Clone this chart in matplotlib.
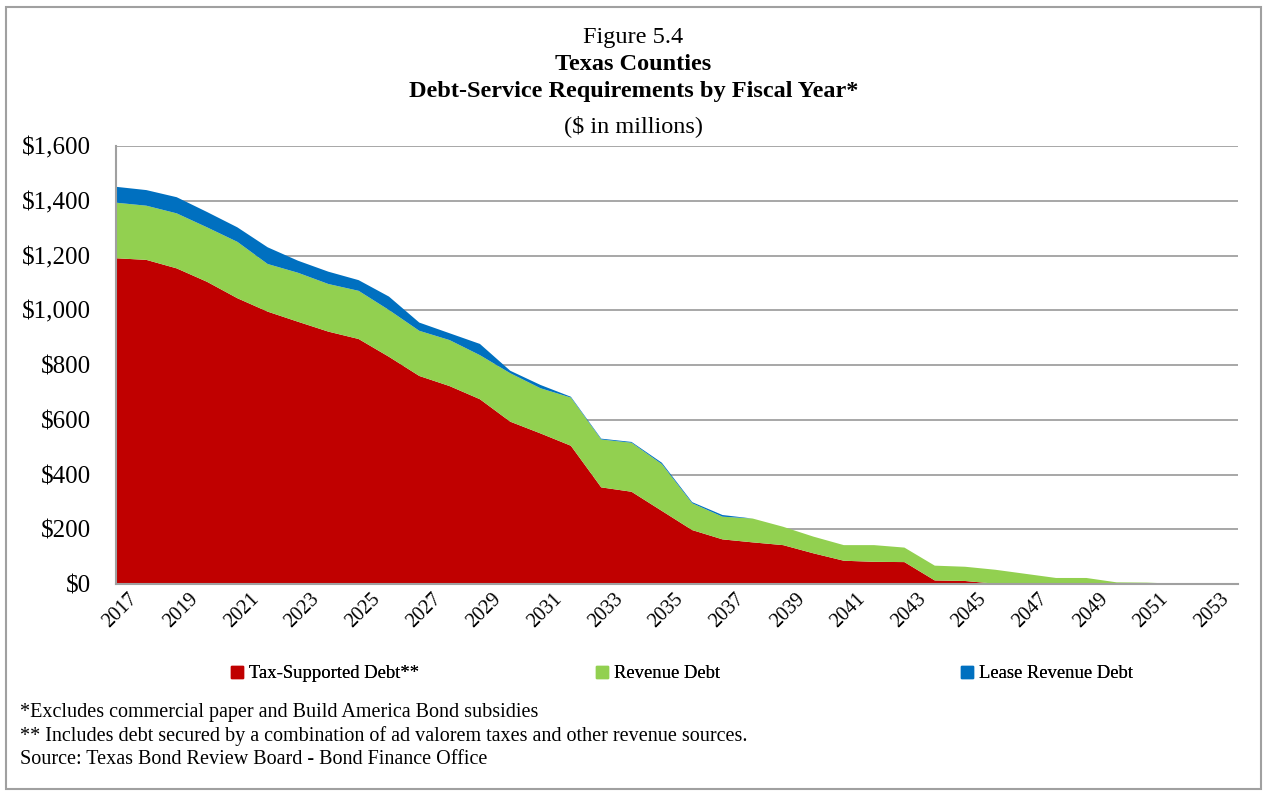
import matplotlib.pyplot as plt
import matplotlib.patches as mpatches
import matplotlib.transforms as mtransforms
import numpy as np

plt.rcParams['font.family'] = ['Liberation Serif', 'DejaVu Serif']

years = list(range(2017, 2055))
tax_supported = [1190, 1184, 1153, 1104, 1044, 995, 958, 922, 895, 830,
                 760, 723, 675, 593, 550, 505, 353, 337, 267, 197,
                 163, 152, 142, 112, 85, 81, 80, 13, 11, 1,
                 0, 0, 0, 0, 0, 0, 0, 0]
revenue = [203, 198, 201, 199, 206, 174, 179, 174, 176, 171,
           165, 168, 161, 177, 165, 176, 175, 179, 171, 98,
           83, 87, 67, 61, 57, 61, 53, 54, 52, 51,
           37, 22, 22, 6, 5, 1, 0, 0]
lease_revenue = [58, 57, 59, 56, 53, 61, 44, 45, 39, 49,
                 30, 25, 41, 9, 12, 3, 3, 3, 5, 4,
                 6, 0, 0, 0, 0, 0, 0, 0, 0, 0,
                 0, 0, 0, 0, 0, 0, 0, 0]
labels = ['Tax-Supported Debt**', 'Revenue Debt', 'Lease Revenue Debt']
colors = ['#C00000', '#92D050', '#0070C0']

fig = plt.figure(figsize=(12.67, 7.91), dpi=100)
ax = fig.add_axes([0.0916, 0.2617, 0.8855, 0.5537])

x = np.arange(len(years))
ax.stackplot(x, tax_supported, revenue, lease_revenue, colors=colors, linewidth=0)

ax.set_xlim(0, len(years) - 1)
ax.set_ylim(0, 1600)
ax.set_yticks(range(0, 1601, 200))
ax.set_yticklabels(['$' + format(v, ',') for v in range(0, 1601, 200)], fontsize=18)
ax.set_xticks(x[::2])
ax.set_xticklabels([str(y) for y in years[::2]], rotation=45, ha='right',
                   rotation_mode='anchor', fontsize=14.5)
ax.tick_params(axis='y', length=0, pad=18)
ax.tick_params(axis='x', length=0, pad=4)
shift = mtransforms.ScaledTranslation(12 / 100, 0, fig.dpi_scale_trans)
for lbl in ax.get_xticklabels():
    lbl.set_transform(lbl.get_transform() + shift)
ax.grid(axis='y', color='#a0a0a0', linewidth=1.3)
ax.set_axisbelow(True)
for s in ['top', 'right']:
    ax.spines[s].set_visible(False)
for s in ['left', 'bottom']:
    ax.spines[s].set_color('#a0a0a0')
    ax.spines[s].set_linewidth(1.5)

# titles
fig.text(0.5, 1 - 37 / 791, 'Figure 5.4', ha='center', va='center', fontsize=17.5)
fig.text(0.5, 1 - 64 / 791, 'Texas Counties', ha='center', va='center', fontsize=17.5, fontweight='bold')
fig.text(0.5, 1 - 92 / 791, 'Debt-Service Requirements by Fiscal Year*', ha='center', va='center',
         fontsize=17.5, fontweight='bold')
fig.text(0.5, 1 - 126 / 791, '($ in millions)', ha='center', va='center', fontsize=17.5)

# legend, one entry each
leg_x = [222, 587, 952]
for lx, lab, col in zip(leg_x, labels, colors):
    h = mpatches.Patch(color=col, label=lab)
    lg = fig.legend(handles=[h], loc='center left', bbox_to_anchor=(lx / 1267, 1 - 674 / 791),
                    frameon=False, fontsize=13.4, handlelength=0.65, handleheight=0.65,
                    handletextpad=0.3, borderpad=0)
    fig.add_artist(lg)

# footnotes
notes = ['*Excludes commercial paper and Build America Bond subsidies',
         '** Includes debt secured by a combination of ad valorem taxes and other revenue sources.',
         'Source: Texas Bond Review Board - Bond Finance Office']
for i, n in enumerate(notes):
    fig.text(20 / 1267, 1 - (712 + 24 * i) / 791, n, ha='left', va='center', fontsize=14.5)

# outer border
fig.add_artist(mpatches.Rectangle((6 / 1267, 0.003), 1 - 12 / 1267, 1 - 9 / 791,
                                  transform=fig.transFigure, fill=False,
                                  edgecolor='#a0a0a0', linewidth=1.5))

fig.savefig('out.png', dpi=100)
